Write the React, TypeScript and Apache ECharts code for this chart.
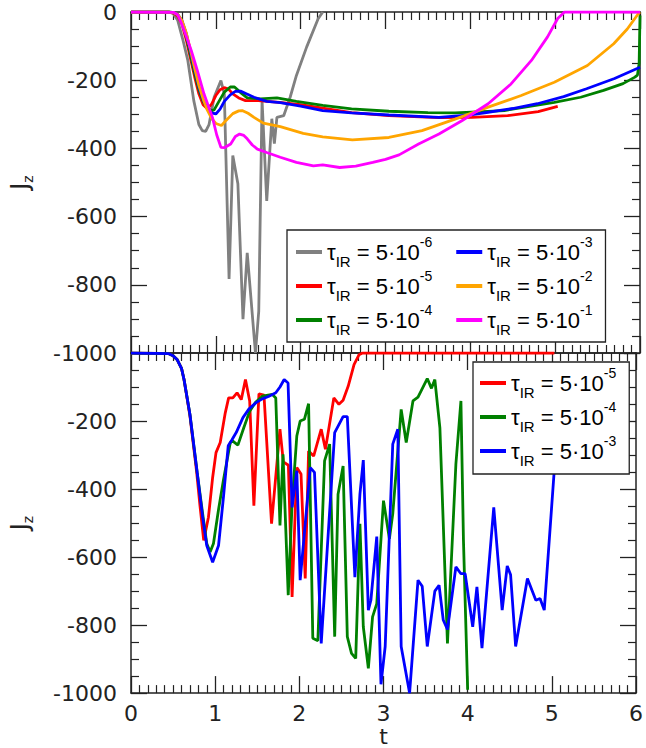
import React, { useEffect, useRef } from 'react';
import * as echarts from 'echarts';

// legend exponents (τ_IR = 5·10^e)
const tauExponents = ['-6', '-5', '-4', '-3', '-2', '-1'];
const seriesNames = tauExponents.map((e) => `τIR = 5·10${e}`);
const seriesColors = ['#808080', '#ff0000', '#008000', '#0000ff', '#ffa500', '#ff00ff'];

const xTicks = [0, 1, 2, 3, 4, 5, 6];
const yTicks = [0, -200, -400, -600, -800, -1000];

// ---------- top panel ----------
const topGray = [
  [0, 0], [0.45, 0], [0.5, -5], [0.55, -24], [0.61, -80], [0.67, -142], [0.74, -260], [0.8, -330],
  [0.84, -348], [0.88, -350], [0.92, -330], [0.98, -250], [1.06, -201], [1.1, -240], [1.156, -783],
  [1.2, -421], [1.26, -504], [1.32, -901], [1.37, -706], [1.467, -1000], [1.506, -877], [1.545, -260],
  [1.6, -554], [1.66, -313], [1.69, -386], [1.72, -309], [1.8, -304], [1.876, -250], [1.95, -186],
  [2.07, -103], [2.206, -20], [2.26, 0],
];
const topRed = [
  [0, 0], [0.45, 0], [0.5, -3], [0.55, -12], [0.6, -35], [0.65, -80], [0.7, -135], [0.75, -190],
  [0.8, -240], [0.85, -272], [0.9, -284], [0.95, -270], [1.0, -245], [1.05, -228], [1.1, -222],
  [1.15, -226], [1.2, -240], [1.27, -252], [1.35, -260], [1.5, -260], [1.75, -265], [2.0, -272],
  [2.26, -282], [2.6, -295], [3.04, -304], [3.63, -310], [4.02, -309], [4.44, -304], [4.8, -292],
  [5.03, -277],
];
const topGreen = [
  [0, 0], [0.45, 0], [0.5, -2], [0.55, -8], [0.6, -28], [0.65, -70], [0.7, -125], [0.75, -180],
  [0.8, -228], [0.85, -262], [0.9, -282], [0.95, -289], [0.98, -287], [1.03, -265], [1.1, -235],
  [1.17, -220], [1.22, -220], [1.3, -238], [1.37, -252], [1.525, -255], [1.72, -252], [1.95, -262],
  [2.26, -274], [2.6, -284], [3.04, -291], [3.5, -295], [3.82, -296], [4.4, -289], [4.99, -265],
  [5.3, -250], [5.57, -230], [5.8, -210], [5.94, -191], [5.97, -185], [5.99, -150], [6.0, -10],
];
const topBlue = [
  [0, 0], [0.45, 0], [0.5, -2], [0.55, -7], [0.6, -25], [0.65, -62], [0.7, -115], [0.75, -170],
  [0.8, -220], [0.85, -258], [0.9, -282], [0.95, -296], [1.0, -299], [1.05, -285], [1.1, -262],
  [1.17, -243], [1.23, -233], [1.29, -232], [1.36, -240], [1.45, -250], [1.6, -262], [1.76, -266],
  [2.0, -276], [2.26, -289], [2.6, -296], [3.04, -302], [3.63, -309], [4.0, -302], [4.21, -294],
  [4.5, -283], [4.79, -269], [5.1, -248], [5.37, -225], [5.7, -195], [6.0, -162],
];
const topOrange = [
  [0, 0], [0.45, 0], [0.5, -2], [0.55, -7], [0.6, -25], [0.65, -60], [0.7, -110], [0.75, -165],
  [0.8, -215], [0.85, -255], [0.9, -288], [0.95, -312], [1.0, -327], [1.066, -333], [1.12, -318],
  [1.2, -298], [1.27, -290], [1.31, -289], [1.38, -297], [1.45, -309], [1.56, -326], [1.76, -336],
  [2.03, -356], [2.26, -366], [2.61, -375], [3.04, -368], [3.43, -348], [3.82, -314], [4.21, -279],
  [4.6, -245], [4.99, -206], [5.38, -157], [5.69, -93], [5.85, -50], [5.98, -5], [6.0, 0],
];
const topMagenta = [
  [0, 0], [0.5, -1], [0.55, -8], [0.59, -30], [0.65, -70], [0.71, -113], [0.78, -170], [0.86, -240],
  [0.96, -309], [1.01, -360], [1.06, -397], [1.1, -398], [1.175, -387], [1.23, -365], [1.28, -358],
  [1.33, -362], [1.37, -372], [1.43, -390], [1.49, -402], [1.6, -412], [1.76, -426], [1.95, -441],
  [2.15, -451], [2.26, -448], [2.46, -456], [2.65, -452], [2.85, -441], [3.0, -432], [3.16, -419],
  [3.39, -387], [3.63, -358], [3.9, -319], [4.21, -269], [4.48, -211], [4.72, -142], [4.91, -73],
  [5.03, -19], [5.11, 0], [6.0, 0],
];

// ---------- bottom panel ----------
const botRed = [
  [0, 0], [0.45, -2], [0.5, -8], [0.55, -20], [0.6, -45], [0.63, -78], [0.7, -185], [0.78, -350],
  [0.82, -450], [0.864, -551], [0.92, -483], [0.97, -366], [1.01, -293], [1.06, -263], [1.12, -176],
  [1.16, -132], [1.21, -132], [1.26, -117], [1.31, -137], [1.36, -78], [1.41, -141], [1.46, -449],
  [1.52, -120], [1.58, -124], [1.67, -502], [1.77, -224], [1.81, -320], [1.87, -330], [1.914, -717],
  [1.97, -337], [2.02, -356], [2.07, -663], [2.11, -288], [2.17, -303], [2.26, -224], [2.31, -283],
  [2.41, -132], [2.47, -151], [2.52, -139], [2.58, -98], [2.65, -34], [2.71, -5], [2.75, 0],
  [5.03, 0],
];
const botGreen = [
  [0, 0], [0.45, -2], [0.5, -8], [0.55, -20], [0.6, -45], [0.63, -78], [0.7, -180], [0.786, -351],
  [0.85, -470], [0.9, -560], [0.94, -585], [0.98, -560], [1.04, -460], [1.1, -371], [1.18, -263],
  [1.21, -259], [1.27, -271], [1.34, -220], [1.41, -171], [1.48, -145], [1.56, -127], [1.68, -122],
  [1.72, -132], [1.77, -507], [1.806, -298], [1.868, -712], [1.914, -443], [1.97, -244], [2.01, -200],
  [2.06, -195], [2.11, -149], [2.16, -839], [2.22, -846], [2.3, -317], [2.36, -268], [2.42, -834],
  [2.46, -415], [2.52, -332], [2.57, -834], [2.62, -883], [2.67, -898], [2.72, -502], [2.76, -805],
  [2.82, -927], [2.87, -776], [2.92, -737], [3.0, -434], [3.07, -546], [3.11, -473], [3.21, -166],
  [3.27, -263], [3.35, -141], [3.41, -130], [3.52, -75], [3.57, -104], [3.61, -78], [3.67, -220],
  [3.76, -854], [3.86, -327], [3.92, -141], [3.95, -551], [4.0, -990],
];
const botBlue = [
  [0, 0], [0.45, -2], [0.5, -8], [0.55, -20], [0.6, -45], [0.63, -78], [0.7, -180], [0.786, -351],
  [0.85, -480], [0.9, -566], [0.97, -615], [1.04, -566], [1.1, -420], [1.155, -273], [1.2, -255],
  [1.25, -234], [1.33, -190], [1.4, -165], [1.486, -146], [1.56, -135], [1.64, -127], [1.72, -117],
  [1.77, -100], [1.82, -78], [1.866, -88], [1.914, -454], [1.97, -346], [2.01, -668], [2.13, -337],
  [2.18, -351], [2.26, -854], [2.42, -234], [2.52, -187], [2.57, -187], [2.66, -659], [2.72, -415],
  [2.76, -315], [2.82, -756], [2.85, -727], [2.92, -540], [2.97, -974], [3.02, -863], [3.11, -268],
  [3.17, -224], [3.21, -863], [3.31, -1000], [3.41, -668], [3.46, -686], [3.52, -863], [3.61, -700],
  [3.66, -683], [3.71, -785], [3.76, -813], [3.86, -629], [3.92, -649], [3.97, -649], [4.06, -805],
  [4.11, -688], [4.17, -868], [4.31, -454], [4.41, -756], [4.47, -626], [4.51, -652], [4.57, -863],
  [4.71, -663], [4.81, -727], [4.86, -722], [4.91, -756], [5.03, -341], [5.08, -150],
];

const topData = [topGray, topRed, topGreen, topBlue, topOrange, topMagenta];
const botData = [botRed, botGreen, botBlue];
const botIdx = [1, 2, 3];

const AXIS = '#222';
const LABEL_FONT = 'DejaVu Sans';
const LEGEND_FONT = 'Liberation Sans';

function xAxisDef(gridIndex: number, position: string, showLabel: boolean, withName: boolean) {
  return {
    type: 'value', gridIndex, position, min: xTicks[0], max: xTicks[xTicks.length - 1], interval: 1,
    axisLine: { show: true, onZero: false, lineStyle: { color: AXIS, width: 1.5 } },
    axisTick: { show: true, inside: true, length: 17, lineStyle: { color: AXIS, width: 1.3 } },
    minorTick: { show: true, splitNumber: 10, length: 8, lineStyle: { color: AXIS, width: 1.2 } },
    axisLabel: {
      show: showLabel, margin: 9, fontFamily: LABEL_FONT, fontSize: 22, color: '#222',
      formatter: (v: number) => String(v),
    },
    splitLine: { show: false },
    name: withName ? 't' : '',
    nameLocation: 'middle', nameGap: 29,
    nameTextStyle: { fontFamily: LABEL_FONT, fontSize: 22, color: '#222' },
  };
}

function yAxisDef(gridIndex: number, position: string, showLabel: boolean, hideMax: boolean, withName: boolean) {
  return {
    type: 'value', gridIndex, position, min: yTicks[yTicks.length - 1], max: yTicks[0], interval: 200,
    axisLine: { show: true, onZero: false, lineStyle: { color: AXIS, width: 1.5 } },
    axisTick: { show: true, inside: true, length: 16, lineStyle: { color: AXIS, width: 1.3 } },
    minorTick: { show: true, splitNumber: 4, length: 8, lineStyle: { color: AXIS, width: 1.2 } },
    axisLabel: {
      show: showLabel, margin: 14, fontFamily: LABEL_FONT, fontSize: 22, color: '#222', showMaxLabel: !hideMax,
      formatter: (v: number) => String(v),
    },
    splitLine: { show: false },
    name: withName ? '{j|J}{z|z}' : '',
    nameLocation: 'middle', nameGap: 96,
    nameTextStyle: {
      fontFamily: LABEL_FONT, color: '#222',
      rich: {
        j: { fontFamily: LABEL_FONT, fontSize: 24, lineHeight: 30, color: '#222' },
        z: { fontFamily: LABEL_FONT, fontSize: 14, lineHeight: 14, verticalAlign: 'bottom', color: '#222' },
      },
    },
  };
}

const legendRich = {
  t: { fontFamily: LEGEND_FONT, fontSize: 22, lineHeight: 34, color: '#000' },
  m: { fontFamily: LEGEND_FONT, fontSize: 22, lineHeight: 34, color: '#000' },
  s: { fontFamily: LEGEND_FONT, fontSize: 15, lineHeight: 12, verticalAlign: 'bottom', color: '#000' },
  p: { fontFamily: LEGEND_FONT, fontSize: 14, lineHeight: 28, verticalAlign: 'top', color: '#000' },
  q: { fontFamily: LEGEND_FONT, fontSize: 14, lineHeight: 28, verticalAlign: 'top', color: '#000', padding: [0, 24, 0, 0] },
};

function legendText(name: string, padRight: boolean) {
  const i = seriesNames.indexOf(name);
  const e = tauExponents[i];
  return `{t|τ}{s|IR}{m| = 5·10}{${padRight ? 'q' : 'p'}|${e}}`;
}

export default function App() {
  const ref = useRef<HTMLDivElement>(null);
  useEffect(() => {
    if (!ref.current) return;
    const chart = echarts.init(ref.current, undefined, { renderer: 'svg' });
    const series: any[] = [];
    topData.forEach((d, i) => {
      series.push({
        type: 'line', name: seriesNames[i], xAxisIndex: 0, yAxisIndex: 0, data: d,
        symbol: 'none', showSymbol: false, lineStyle: { color: seriesColors[i], width: 2.8 },
        itemStyle: { color: seriesColors[i] }, z: 2,
      });
    });
    botData.forEach((d, k) => {
      const i = botIdx[k];
      series.push({
        type: 'line', name: seriesNames[i], xAxisIndex: 2, yAxisIndex: 2, data: d,
        symbol: 'none', showSymbol: false, lineStyle: { color: seriesColors[i], width: 2.8 },
        itemStyle: { color: seriesColors[i] }, z: 2,
      });
    });
    const legendCommon = {
      orient: 'vertical',
      icon: 'rect',
      itemWidth: 26, itemHeight: 4, itemGap: 0,
      backgroundColor: '#fff', borderColor: '#222', borderWidth: 1.3, borderRadius: 0,
      textStyle: { fontFamily: LEGEND_FONT, fontSize: 22, color: '#000', rich: legendRich },
      selectedMode: false,
    };
    chart.setOption({
      animation: false,
      backgroundColor: '#ffffff',
      grid: [
        { left: 126, top: 12, width: 514, height: 341 },
        { left: 126, top: 353, width: 514, height: 342 },
      ],
      xAxis: [
        xAxisDef(0, 'bottom', false, false),
        xAxisDef(0, 'top', false, false),
        xAxisDef(1, 'bottom', true, true),
        xAxisDef(1, 'top', false, false),
      ],
      yAxis: [
        yAxisDef(0, 'left', true, false, true),
        yAxisDef(0, 'right', false, false, false),
        yAxisDef(1, 'left', true, true, true),
        yAxisDef(1, 'right', false, false, false),
      ],
      legend: [
        {
          ...legendCommon,
          data: seriesNames,
          left: 287, top: 230, height: 130,
          padding: [5, 13, 5, 9],
          formatter: (name: string) => legendText(name, seriesNames.indexOf(name) < 3),
        },
        {
          ...legendCommon,
          data: botIdx.map((i) => seriesNames[i]),
          left: 473, top: 362,
          padding: [4, 13, 6, 7],
          formatter: (name: string) => legendText(name, false),
        },
      ],
      series,
    });
    return () => chart.dispose();
  }, []);
  return <div ref={ref} style={{ position: 'absolute', left: 0, top: 0, width: 646, height: 748 }} />;
}
